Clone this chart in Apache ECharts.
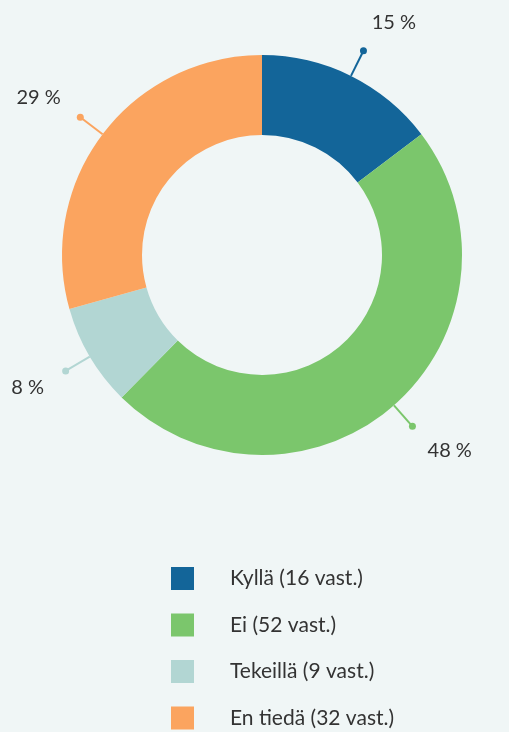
<!DOCTYPE html>
<html>
<head>
<meta charset="utf-8">
<script src="https://cdn.jsdelivr.net/npm/echarts@6/dist/echarts.min.js"></script>
<style>
  html, body { margin: 0; padding: 0; background: #f0f6f6; }
  #chart { width: 509px; height: 732px; }
</style>
</head>
<body>
<div id="chart"></div>
<script>
const names = ['Kyllä', 'Ei', 'Tekeillä', 'En tiedä']
const counts = [16, 52, 9, 32]
const colors = ['#136599', '#7bc66c', '#b2d6d3', '#fba45f']

const legendName = i => names[i] + ' (' + counts[i] + ' vast.)'

const chart = echarts.init(document.getElementById('chart'))

chart.setOption({
  backgroundColor: '#f0f6f6',
  textStyle: { fontFamily: 'Lato, sans-serif' },
  legend: {
    orient: 'vertical',
    left: 171,
    top: 567,
    height: 200,
    padding: 0,
    icon: 'rect',
    itemWidth: 23,
    itemHeight: 23,
    itemGap: 23.5,
    selectedMode: false,
    textStyle: { fontSize: 21, color: '#333', padding: [0, 0, 0, 31] },
    data: counts.map((c, i) => ({ name: legendName(i), itemStyle: { color: colors[i] } }))
  },
  series: [
    {
      type: 'pie',
      center: [262, 255],
      radius: [120, 200],
      avoidLabelOverlap: false,
      silent: true,
      itemStyle: { borderWidth: 0 },
      label: {
        show: true,
        position: 'outside',
        formatter: '{d|}',
        distanceToLabelLine: -3.5
      },
      labelLine: { show: true, length: 28, length2: 0, smooth: false, lineStyle: { width: 2 } },
      data: counts.map((c, i) => ({
        name: legendName(i),
        value: c,
        itemStyle: { color: colors[i] },
        label: { rich: { d: { width: 7, height: 7, borderRadius: 3.5, backgroundColor: colors[i] } } }
      }))
    },
    {
      type: 'pie',
      center: [262, 255],
      radius: [120, 200],
      avoidLabelOverlap: false,
      silent: true,
      legendHoverLink: false,
      percentPrecision: 0,
      itemStyle: { color: 'rgba(0,0,0,0)' },
      label: {
        show: true,
        position: 'outside',
        formatter: '{d} %',
        fontSize: 20,
        color: '#333',
        distanceToLabelLine: -6
      },
      labelLine: { show: false, length: 60, length2: 0 },
      data: counts.map((c, i) => ({ name: legendName(i), value: c }))
    }
  ]
})
</script>
</body>
</html>
